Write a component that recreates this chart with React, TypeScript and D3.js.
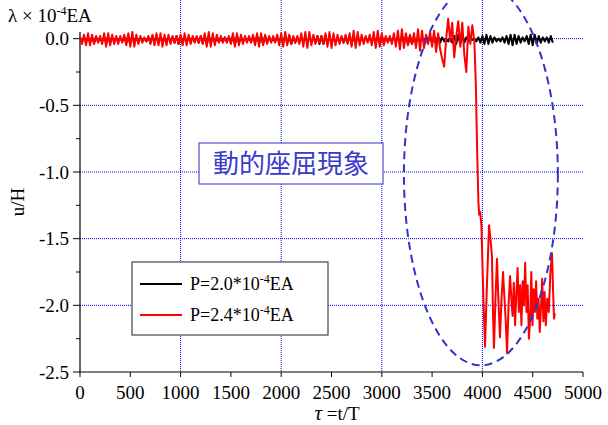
import React from "react";
import * as d3 from "d3";

const TAU_STEP = 20;
const xTicks = [0, 500, 1000, 1500, 2000, 2500, 3000, 3500, 4000, 4500, 5000];
const yTicks = [0, -0.5, -1.0, -1.5, -2.0, -2.5];
const yMinor = [-0.25, -0.75, -1.25, -1.75, -2.25];
const xGrid = [1000, 2000, 3000, 4000];
const yGrid = [0, -0.5, -1.0, -1.5, -2.0];

// P = 2.0*10^-4 EA, tau = 0, 20, 40, ...
const blackU = [
  0.01,-0.02,0.01,-0.02,0.00,-0.02,0.01,-0.03,0.01,-0.02,
  0.00,-0.02,0.01,-0.03,0.02,-0.03,0.01,-0.02,0.00,-0.01,
  0.00,-0.02,0.01,-0.03,0.02,-0.04,0.02,-0.03,0.01,-0.02,
  0.00,-0.01,0.00,-0.02,0.01,-0.03,0.02,-0.03,0.02,-0.03,
  0.01,-0.02,0.00,-0.02,0.01,-0.02,0.01,-0.03,0.02,-0.04,
  0.02,-0.03,0.01,-0.02,0.00,-0.01,0.00,-0.02,0.01,-0.03,
  0.02,-0.03,0.02,-0.04,0.02,-0.03,0.01,-0.02,0.00,-0.02,
  0.00,-0.02,0.01,-0.02,0.01,-0.03,0.02,-0.04,0.02,-0.03,
  0.01,-0.02,0.00,-0.01,0.00,-0.02,0.01,-0.03,0.02,-0.03,
  0.02,-0.04,0.02,-0.03,0.01,-0.02,0.00,-0.02,0.01,-0.02,
  0.01,-0.03,0.02,-0.03,0.02,-0.04,0.01,-0.03,0.01,-0.02,
  0.00,-0.01,0.00,-0.02,0.01,-0.02,0.01,-0.03,0.02,-0.04,
  0.02,-0.04,0.02,-0.03,0.01,-0.02,0.00,-0.02,0.00,-0.02,
  0.01,-0.03,0.01,-0.03,0.02,-0.04,0.02,-0.03,0.01,-0.02,
  0.00,-0.02,0.01,-0.02,0.01,-0.03,0.02,-0.03,0.02,-0.04,
  0.02,-0.03,0.01,-0.02,0.00,-0.01,0.00,-0.02,0.01,-0.03,
  0.02,-0.03,0.02,-0.04,0.02,-0.04,0.01,-0.03,0.00,-0.02,
  0.00,-0.02,0.01,-0.02,0.01,-0.03,0.02,-0.04,0.02,-0.03,
  0.01,-0.02,0.00,-0.02,0.01,-0.03,0.02,-0.04,0.03,-0.04,
  0.02,-0.03,0.01,-0.02,0.00,-0.01,0.00,-0.02,0.01,-0.03,
  0.02,-0.04,0.03,-0.04,0.02,-0.03,0.01,-0.02,0.00,-0.02,
  0.01,-0.03,0.02,-0.04,0.03,-0.05,0.03,-0.04,0.02,-0.03,
  0.01,-0.02,0.02,-0.04,0.03,-0.05,0.03,-0.04,0.02,-0.03,
  0.01,-0.02,0.01,-0.03,0.02,-0.03,
];

// P = 2.4*10^-4 EA, before collapse, tau = 0, 20, 40, ... 3920
const redEarlyU = [
  0.01,-0.04,0.03,-0.05,0.04,-0.05,0.03,-0.04,0.02,-0.03,
  0.02,-0.04,0.04,-0.06,0.04,-0.05,0.03,-0.04,0.02,-0.04,
  0.02,-0.03,0.03,-0.05,0.04,-0.06,0.05,-0.06,0.03,-0.04,
  0.02,-0.03,0.01,-0.02,0.02,-0.04,0.03,-0.05,0.04,-0.05,
  0.04,-0.06,0.03,-0.05,0.03,-0.04,0.02,-0.03,0.02,-0.04,
  0.03,-0.05,0.04,-0.05,0.03,-0.04,0.02,-0.03,0.02,-0.03,
  0.02,-0.04,0.04,-0.06,0.05,-0.06,0.04,-0.05,0.03,-0.03,
  0.02,-0.03,0.01,-0.03,0.02,-0.04,0.04,-0.06,0.04,-0.05,
  0.03,-0.04,0.02,-0.03,0.02,-0.03,0.03,-0.05,0.04,-0.06,
  0.04,-0.05,0.03,-0.04,0.02,-0.03,0.02,-0.03,0.03,-0.05,
  0.04,-0.06,0.05,-0.05,0.03,-0.04,0.02,-0.03,0.02,-0.04,
  0.04,-0.06,0.05,-0.07,0.05,-0.05,0.03,-0.04,0.02,-0.03,
  0.02,-0.04,0.04,-0.06,0.05,-0.07,0.04,-0.05,0.03,-0.04,
  0.02,-0.03,0.03,-0.04,0.04,-0.06,0.06,-0.07,0.05,-0.05,
  0.03,-0.04,0.02,-0.03,0.03,-0.05,0.05,-0.07,0.06,-0.06,
  0.04,-0.05,0.02,-0.03,0.02,-0.04,0.04,-0.06,0.06,-0.08,
  0.07,-0.07,0.04,-0.05,0.03,-0.04,0.04,-0.07,0.07,-0.09,
  0.06,-0.07,0.03,-0.04,0.05,-0.06,0.06,-0.10,0.04,-0.08,
  -0.15,-0.21,0.00,0.15,-0.02,0.12,-0.14,0.02,0.13,-0.06,
  0.12,-0.12,-0.25,0.09,-0.04,0.10,-0.02,
];

// P = 2.4*10^-4 EA, after collapse: [tau, u]
const redLate: [number, number][] = [
  [3935, -0.35], [3948, -0.85], [3960, -1.22], [3968, -1.32], [3978, -1.30],
  [3990, -1.40], [4008, -1.90], [4026, -2.31], [4045, -1.85], [4066, -1.40],
  [4080, -1.50], [4095, -1.63], [4105, -2.05], [4115, -2.32], [4130, -1.95],
  [4145, -1.65], [4160, -1.98], [4175, -2.24], [4190, -1.95], [4205, -1.75],
  [4220, -1.96], [4232, -2.12], [4245, -2.36], [4260, -2.00], [4275, -1.78],
  [4288, -1.95], [4300, -2.08], [4312, -1.83], [4325, -2.15], [4338, -1.90],
  [4350, -1.72], [4362, -2.05], [4375, -1.85], [4388, -2.15], [4400, -1.82],
  [4412, -2.00], [4425, -1.68], [4438, -2.05], [4450, -1.85], [4462, -2.25],
  [4475, -2.10], [4486, -1.75], [4498, -2.15], [4510, -1.88], [4522, -2.05],
  [4534, -1.82], [4546, -2.10], [4558, -1.95], [4570, -2.20], [4582, -2.02],
  [4594, -1.80], [4606, -2.12], [4618, -1.90], [4630, -2.15], [4645, -1.95],
  [4660, -2.05], [4676, -1.75], [4692, -1.61], [4703, -1.90], [4712, -2.10],
  [4720, -2.06],
];

const W = 608;
const H = 425;
const PL = 80, PR = 583, PT = 32, PB = 372;

export default function App() {
  const x = d3.scaleLinear().domain([0, 5000]).range([PL, PR]);
  const y = d3.scaleLinear().domain([-2.5, 0.05]).range([PB, PT]);

  const blackPts: [number, number][] = blackU.map((u, i) => [i * TAU_STEP, u]);
  const redPts: [number, number][] = redEarlyU
    .map((u, i) => [i * TAU_STEP, u] as [number, number])
    .concat(redLate);

  const line = d3
    .line<[number, number]>()
    .x((d) => x(d[0]))
    .y((d) => y(d[1]));

  const serif = "'Liberation Serif', 'Times New Roman', serif";
  const gridColor = "#0000ff";

  // annotation ellipse in data coords
  const ecx = x(3985), ecy = y(-1.02);
  const erx = x(3985 + 765) - x(3985);
  const ery = y(-1.02) - y(-1.02 + 1.43);

  return (
    <svg width={W} height={H} style={{ display: "block", position: "absolute", left: 0, top: 0 }}>
      <rect x={0} y={0} width={W} height={H} fill="#fff" />
      {/* grid */}
      {xGrid.map((t) => (
        <line key={"gx" + t} x1={x(t)} x2={x(t)} y1={0} y2={PB} stroke={gridColor} strokeWidth={1} strokeDasharray="1,1" />
      ))}
      {yGrid.map((t) => (
        <line key={"gy" + t} x1={PL} x2={PR} y1={y(t)} y2={y(t)} stroke={gridColor} strokeWidth={1} strokeDasharray="1,1" />
      ))}

      {/* axes */}
      <line x1={PL} x2={PL} y1={PT} y2={PB} stroke="#000" strokeWidth={1.2} />
      <line x1={PL} x2={PR} y1={PB} y2={PB} stroke="#000" strokeWidth={1.2} />
      {xTicks.map((t) => (
        <g key={"xt" + t}>
          <line x1={x(t)} x2={x(t)} y1={PB} y2={PB + 5} stroke="#000" strokeWidth={1} />
          <text x={x(t)} y={PB + 27} textAnchor="middle" fontFamily={serif} fontSize={19} fill="#000">
            {t}
          </text>
        </g>
      ))}
      {yTicks.map((t) => (
        <g key={"yt" + t}>
          <line x1={PL - 7} x2={PL} y1={y(t)} y2={y(t)} stroke="#000" strokeWidth={1} />
          <text x={PL - 11} y={y(t) + 6.5} textAnchor="end" fontFamily={serif} fontSize={19} fill="#000">
            {t.toFixed(1)}
          </text>
        </g>
      ))}
      {yMinor.map((t) => (
        <line key={"ym" + t} x1={PL - 4} x2={PL} y1={y(t)} y2={y(t)} stroke="#000" strokeWidth={1} />
      ))}

      {/* axis titles */}
      <text x={8} y={22} fontFamily={serif} fontSize={19} fill="#000">
        λ × 10<tspan dy={-7} fontSize={12}>-4</tspan><tspan dy={7}>EA</tspan>
      </text>
      <text transform={`translate(24,${(PT + PB) / 2}) rotate(-90)`} textAnchor="middle" fontFamily={serif} fontSize={19} fill="#000">
        u/H
      </text>
      <text x={337} y={420} textAnchor="middle" fontFamily={serif} fontSize={19} fill="#000">
        <tspan fontStyle="italic" fontSize={21}>τ</tspan> =t/T
      </text>

      {/* data */}
      <path d={line(blackPts) || ""} fill="none" stroke="#000" strokeWidth={2} strokeLinejoin="round" />
      <path d={line(redPts) || ""} fill="none" stroke="#ff0000" strokeWidth={2} strokeLinejoin="round" />

      {/* ellipse annotation */}
      <ellipse cx={ecx} cy={ecy} rx={erx} ry={ery} fill="none" stroke="#3333cc" strokeWidth={2} strokeDasharray="8,5" />

      {/* label box */}
      <rect x={199} y={143} width={184} height={41} fill="#fff" stroke="#5050d0" strokeWidth={1.2} />
      <text x={291} y={173} textAnchor="middle" fontFamily="'Noto Sans CJK JP', sans-serif" fontSize={26} fill="#3a3acc">
        動的座屈現象
      </text>

      {/* legend */}
      <rect x={132} y={262} width={196} height={73} fill="#fff" stroke="#444" strokeWidth={1.2} />
      <line x1={140} x2={182} y1={284} y2={284} stroke="#000" strokeWidth={2} />
      <text x={190} y={290} fontFamily={serif} fontSize={18} fill="#000">
        P=2.0*10<tspan dy={-7} fontSize={12}>-4</tspan><tspan dy={7}>EA</tspan>
      </text>
      <line x1={140} x2={182} y1={315} y2={315} stroke="#ff0000" strokeWidth={2} />
      <text x={190} y={321} fontFamily={serif} fontSize={18} fill="#000">
        P=2.4*10<tspan dy={-7} fontSize={12}>-4</tspan><tspan dy={7}>EA</tspan>
      </text>
    </svg>
  );
}
